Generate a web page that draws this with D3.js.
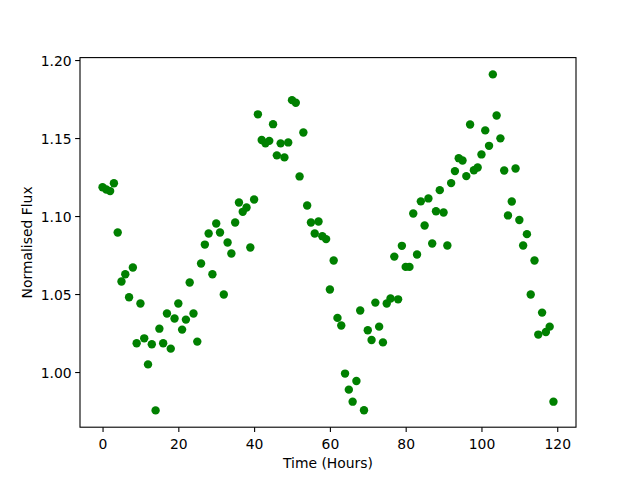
<!DOCTYPE html>
<html>
<head>
<meta charset="utf-8">
<script src="https://cdn.jsdelivr.net/npm/d3@7"></script>
<style>
  html, body { margin: 0; padding: 0; background: #fff; }
  svg { display: block; }
  text { font-family: "DejaVu Sans", sans-serif; fill: #000; }
</style>
</head>
<body>
<svg id="chart" width="640" height="480"></svg>
<script>
// Time in hours
const hours = d3.range(0, 120);
// Normalised flux values
const flux = [
  1.1185, 1.1170, 1.1160, 1.1210, 1.0894, 1.0580, 1.0627, 1.0479, 1.0670, 1.0184,
  1.0439, 1.0216, 1.0049, 1.0178, 0.9754, 1.0278, 1.0184, 1.0375, 1.0150, 1.0343,
  1.0439, 1.0272, 1.0336, 1.0574, 1.0375, 1.0195, 1.0696, 1.0817, 1.0888, 1.0627,
  1.0952, 1.0894, 1.0497, 1.0830, 1.0760, 1.0959, 1.1087, 1.1027, 1.1055, 1.0798,
  1.1106, 1.1652, 1.1487, 1.1466, 1.1482, 1.1589, 1.1389, 1.1466, 1.1376, 1.1472,
  1.1743, 1.1726, 1.1254, 1.1536, 1.1068, 1.0959, 1.0888, 1.0965, 1.0871, 1.0852,
  1.0529, 1.0715, 1.0347, 1.0298, 0.9990, 0.9887, 0.9810, 0.9942, 1.0394, 0.9755,
  1.0268, 1.0205, 1.0445, 1.0291, 1.0190, 1.0439, 1.0471, 1.0740, 1.0466, 1.0809,
  1.0674, 1.0674, 1.1016, 1.0753, 1.1094, 1.0939, 1.1113, 1.0824, 1.1031, 1.1166,
  1.1023, 1.0811, 1.1211, 1.1288, 1.1371, 1.1356, 1.1256, 1.1587, 1.1294, 1.1311,
  1.1395, 1.1549, 1.1450, 1.1908, 1.1645, 1.1498, 1.1292, 1.1004, 1.1093, 1.1305,
  1.0975, 1.0811, 1.0884, 1.0497, 1.0715, 1.0240, 1.0381, 1.0257, 1.0291, 0.9810
];
const xTicks = [0, 20, 40, 60, 80, 100, 120];
const yTicks = [1.00, 1.05, 1.10, 1.15, 1.20];
const xLabel = "Time (Hours)";
const yLabel = "Normalised Flux";

const plotLeft = 80, plotRight = 576, plotTop = 57.6, plotBottom = 427.2;

const svg = d3.select("#chart");

// matplotlib-style 5% margins
const xMin = d3.min(hours), xMax = d3.max(hours);
const xPad = (xMax - xMin) * 0.05;
const yMin = d3.min(flux), yMax = d3.max(flux);
const yPad = (yMax - yMin) * 0.05;

const x = d3.scaleLinear().domain([xMin - xPad, xMax + xPad]).range([plotLeft, plotRight]);
const y = d3.scaleLinear().domain([yMin - yPad, yMax + yPad]).range([plotBottom, plotTop]);

const data = hours.map((h, i) => ({ h, f: flux[i] }));

// points
svg.append("g")
  .selectAll("circle")
  .data(data)
  .enter().append("circle")
  .attr("cx", d => x(d.h))
  .attr("cy", d => y(d.f))
  .attr("r", 4.2)
  .attr("fill", "#008000");

// axes
const tickLen = 4.86;
const xAxis = d3.axisBottom(x).tickValues(xTicks).tickSize(tickLen).tickPadding(3.5).tickFormat(d3.format("d"));
const yAxis = d3.axisLeft(y).tickValues(yTicks).tickSize(tickLen).tickPadding(3.5).tickFormat(d3.format(".2f"));

const gx = svg.append("g").attr("transform", `translate(0,${plotBottom})`).call(xAxis);
const gy = svg.append("g").attr("transform", `translate(${plotLeft},0)`).call(yAxis);

[gx, gy].forEach(g => {
  g.select(".domain").remove();
  g.selectAll(".tick line").attr("stroke", "#000").attr("stroke-width", 1.1);
  g.selectAll(".tick text").attr("font-size", "13.9px").attr("font-family", "DejaVu Sans, sans-serif").attr("fill", "#000");
});
gx.selectAll(".tick text").attr("dy", "0.95em");
gy.selectAll(".tick text").attr("dy", "0.36em");

// frame (spines)
svg.append("rect")
  .attr("x", plotLeft).attr("y", plotTop)
  .attr("width", plotRight - plotLeft).attr("height", plotBottom - plotTop)
  .attr("fill", "none").attr("stroke", "#000").attr("stroke-width", 1.1);

// axis labels
svg.append("text")
  .attr("x", (plotLeft + plotRight) / 2).attr("y", 467.5)
  .attr("text-anchor", "middle").attr("font-size", "13.9px")
  .text(xLabel);

svg.append("text")
  .attr("transform", `translate(31.5,${(plotTop + plotBottom) / 2}) rotate(-90)`)
  .attr("text-anchor", "middle").attr("font-size", "13.9px")
  .text(yLabel);
</script>
</body>
</html>
